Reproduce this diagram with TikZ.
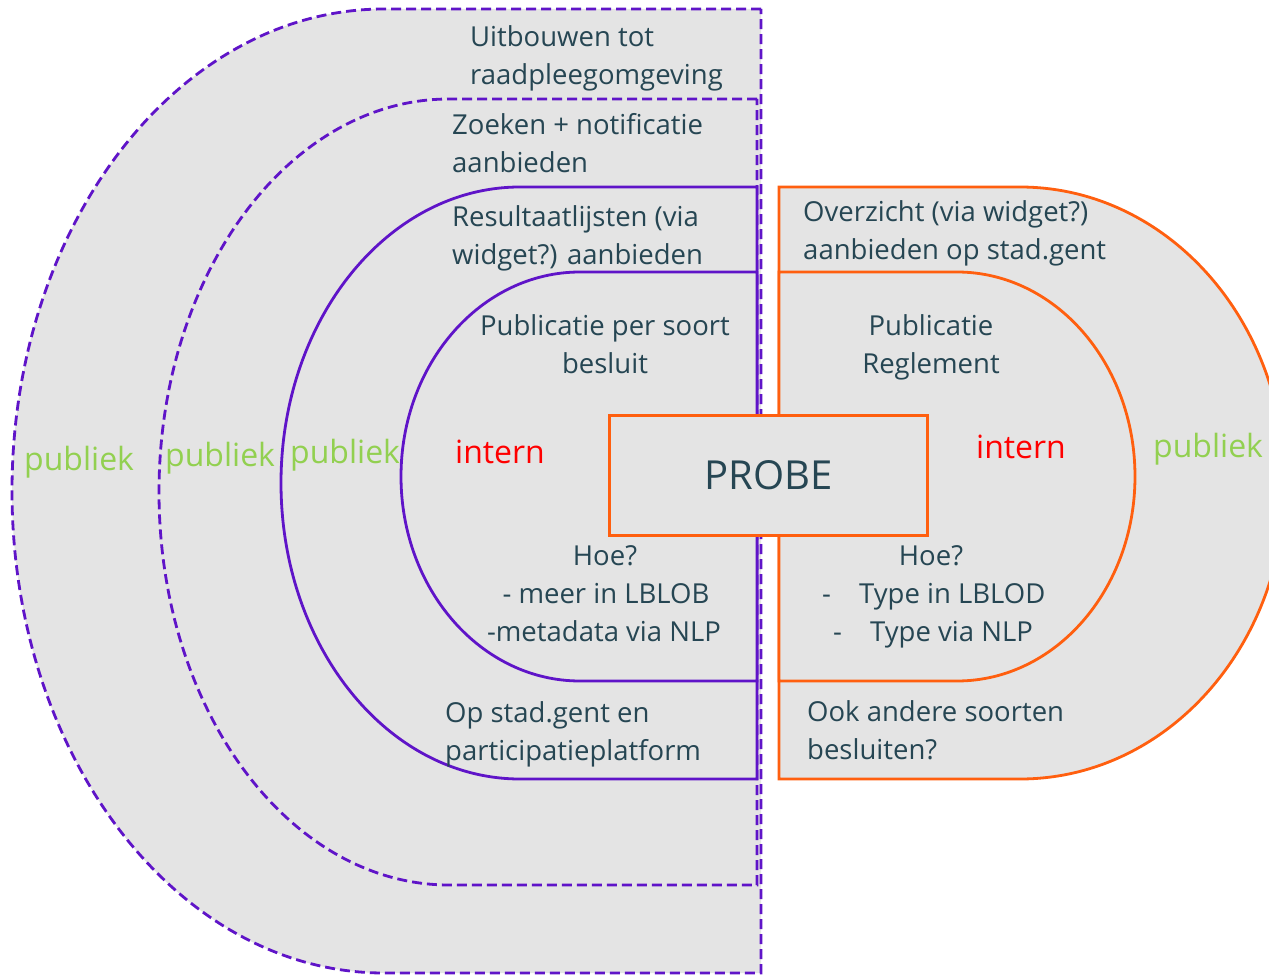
\documentclass[tikz,border=0pt]{standalone}
\usepackage{fontspec}
\setmainfont{Open Sans}
\definecolor{pur}{RGB}{95,20,200}
\definecolor{org}{RGB}{255,95,15}
\definecolor{bgray}{RGB}{228,228,228}
\definecolor{tcol}{RGB}{38,70,83}
\definecolor{grn}{RGB}{146,208,80}
\definecolor{rd}{RGB}{255,0,0}
\begin{document}
\begin{tikzpicture}[x=1pt,y=-1pt,
  dashshape/.style={fill=bgray, draw=pur, line width=2.8pt, dash pattern=on 10pt off 5pt},
  purshape/.style={fill=bgray, draw=pur, line width=2.8pt},
  orshape/.style={fill=bgray, draw=org, line width=2.8pt},
  txt/.style={font=\fontsize{27.5}{33}\selectfont, text=tcol, inner sep=0pt},
  lt/.style={txt, anchor=base west},
  ct/.style={txt, anchor=base},
  pub/.style={txt, font=\fontsize{32}{38}\selectfont, text=grn, anchor=base west},
  int/.style={txt, font=\fontsize{32}{38}\selectfont, text=rd, anchor=base},
  probebox/.style={draw=org, fill=bgray, line width=3pt, minimum width=318pt, minimum height=120pt, inner sep=0pt, text=tcol, font=\fontsize{40}{48}\selectfont}
]
\useasboundingbox (0,0) rectangle (1269,976);
\clip (0,0) rectangle (1269,976);
\fill[white] (0,0) rectangle (1269,976);

% left nested shapes
\path[dashshape] (761,9) -- (384,9) arc[start angle=90, end angle=270, x radius=372pt, y radius=482pt] -- (761,973) -- cycle;
\path[dashshape] (757,99) -- (449,99) arc[start angle=90, end angle=270, x radius=290pt, y radius=393pt] -- (757,885) -- cycle;
\path[purshape] (757,187) -- (520,187) arc[start angle=90, end angle=270, x radius=239pt, y radius=296pt] -- (757,779) -- cycle;
\path[purshape] (757,272) -- (580,272) arc[start angle=90, end angle=270, x radius=179pt, y radius=204.5pt] -- (757,681) -- cycle;

% right nested shapes
\path[orshape] (779,187) -- (1020,187) arc[start angle=90, end angle=-90, x radius=265pt, y radius=296pt] -- (779,779) -- cycle;
\path[orshape] (779,272) -- (957,272) arc[start angle=90, end angle=-90, x radius=178pt, y radius=204.5pt] -- (779,681) -- cycle;

% centre box
\node[probebox] (probe) at (768.5,475) {PROBE};

% left texts
\node[lt] (u1) at (470,47) {Uitbouwen tot};
\node[lt] (u2) at (470,85) {raadpleegomgeving};
\node[lt] (z1) at (452,135) {Zoeken + notificatie};
\node[lt] (z2) at (452,173) {aanbieden};
\node[lt] (r1) at (452,227) {Resultaatlijsten (via};
\node[lt] (r2) at (452,265) {widget?) aanbieden};
\node[ct] (p1) at (605,335) {Publicatie per soort};
\node[ct] (p2) at (605,373) {besluit};
\node[int] (il) at (500,463) {intern};
\node[ct] (h1) at (605,565) {Hoe?};
\node[ct] (h2) at (606,603) {- meer in LBLOB};
\node[ct] (h3) at (604,641) {-metadata via NLP};
\node[lt] (o1) at (445,722) {Op stad.gent en};
\node[lt] (o2) at (445,760) {participatieplatform};
\node[pub] (pb1) at (24,470) {publiek};
\node[pub] (pb2) at (165,466) {publiek};
\node[pub] (pb3) at (290,463) {publiek};

% right texts
\node[lt] (v1) at (803,222) {Overzicht (via widget?)};
\node[lt] (v2) at (803,260) {aanbieden op stad.gent};
\node[ct] (q1) at (931,335) {Publicatie};
\node[ct] (q2) at (931,373) {Reglement};
\node[int] (ir) at (1021,458) {intern};
\node[pub] (pb4) at (1153,457) {publiek};
\node[ct] (k1) at (931,565) {Hoe?};
\node[lt] (k2a) at (822,603) {-};
\node[lt] (k2) at (859,603) {Type in LBLOD};
\node[lt] (k3a) at (833,641) {-};
\node[lt] (k3) at (870,641) {Type via NLP};
\node[lt] (a1) at (807,721) {Ook andere soorten};
\node[lt] (a2) at (807,759) {besluiten?};
\end{tikzpicture}
\end{document}
